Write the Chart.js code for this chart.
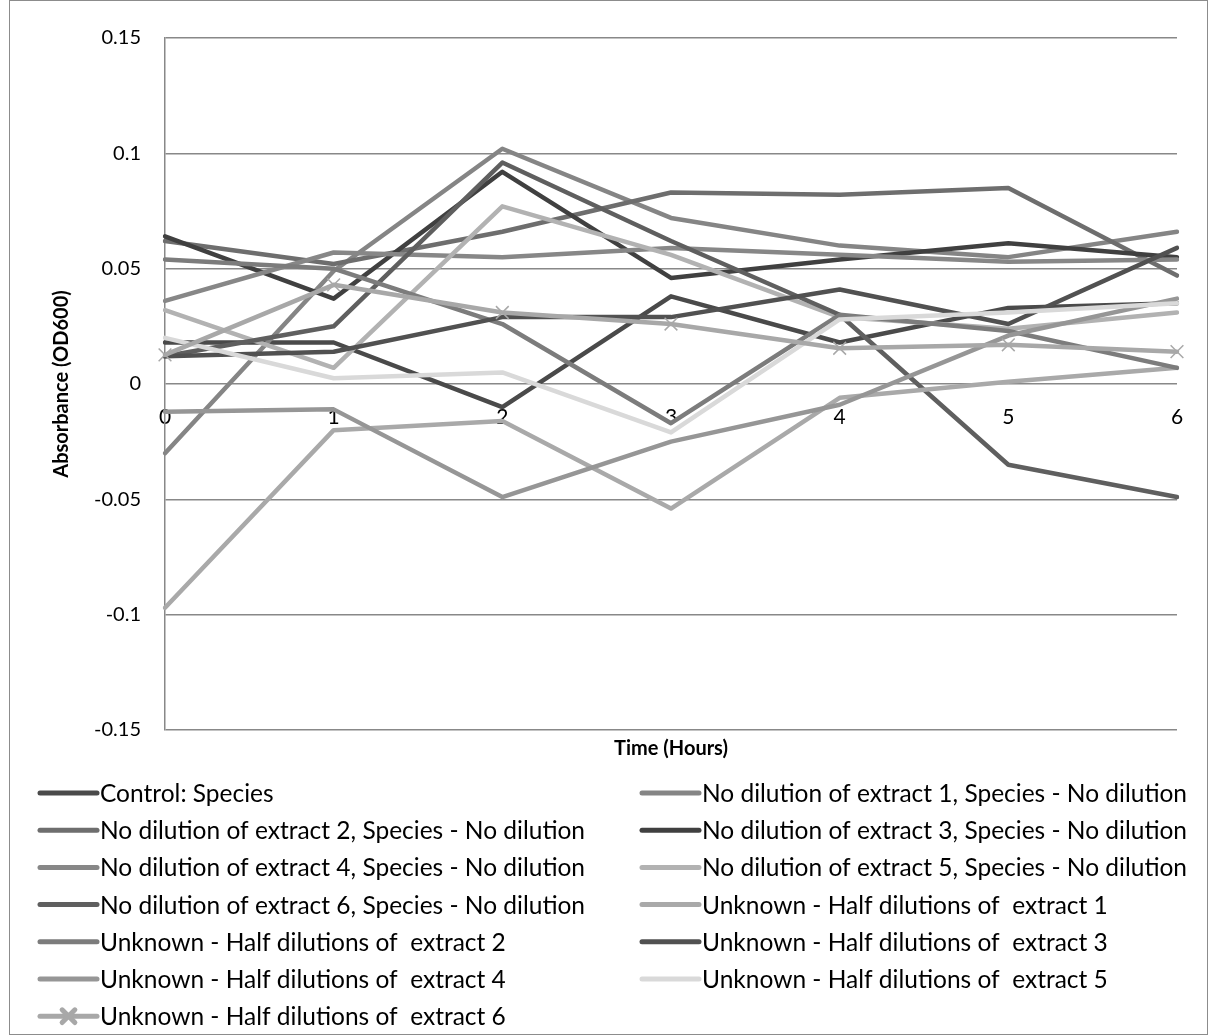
<!DOCTYPE html>
<html>
<head>
<meta charset="utf-8">
<script src="https://cdn.jsdelivr.net/npm/chart.js@4.4.1/dist/chart.umd.min.js"></script>
<style>
  html, body { margin: 0; padding: 0; background: #fff; }
  #wrap { width: 1208px; height: 1035px; }
  canvas { display: block; }
</style>
</head>
<body>
<div id="wrap"><canvas id="chart" width="1208" height="1035"></canvas></div>
<script>
// Time points (hours) and y-axis tick values
const hours = ['0', '1', '2', '3', '4', '5', '6'];
const yTicks = [-0.15, -0.1, -0.05, 0, 0.05, 0.1, 0.15];

// Absorbance readings (OD600) per series
const controlSpecies = [0.018, 0.018, -0.010, 0.038, 0.018, 0.033, 0.035];
const noDil1 = [-0.030, 0.049, 0.102, 0.072, 0.060, 0.055, 0.066];
const noDil2 = [0.062, 0.052, 0.066, 0.083, 0.082, 0.085, 0.047];
const noDil3 = [0.064, 0.037, 0.092, 0.046, 0.054, 0.061, 0.055];
const noDil4 = [0.036, 0.057, 0.055, 0.059, 0.056, 0.053, 0.054];
const noDil5 = [0.032, 0.007, 0.077, 0.056, 0.029, 0.024, 0.031];
const noDil6 = [0.012, 0.025, 0.096, 0.062, 0.030, -0.035, -0.049];
const halfDil1 = [-0.097, -0.020, -0.016, -0.054, -0.006, 0.001, 0.007];
const halfDil2 = [0.054, 0.050, 0.026, -0.017, 0.030, 0.023, 0.007];
const halfDil3 = [0.012, 0.014, 0.029, 0.029, 0.041, 0.026, 0.059];
const halfDil4 = [-0.012, -0.011, -0.049, -0.025, -0.009, 0.021, 0.037];
const halfDil5 = [0.020, 0.0025, 0.005, -0.021, 0.028, 0.031, 0.035];
const halfDil6 = [0.0126, 0.043, 0.031, 0.026, 0.0155, 0.017, 0.014];

const seriesNames = [
  'Control: Species',
  'No dilution of extract 1, Species - No dilution',
  'No dilution of extract 2, Species - No dilution',
  'No dilution of extract 3, Species - No dilution',
  'No dilution of extract 4, Species - No dilution',
  'No dilution of extract 5, Species - No dilution',
  'No dilution of extract 6, Species - No dilution',
  'Unknown - Half dilutions of  extract 1',
  'Unknown - Half dilutions of  extract 2',
  'Unknown - Half dilutions of  extract 3',
  'Unknown - Half dilutions of  extract 4',
  'Unknown - Half dilutions of  extract 5',
  'Unknown - Half dilutions of  extract 6'
];
const seriesValues = [controlSpecies, noDil1, noDil2, noDil3, noDil4, noDil5, noDil6,
  halfDil1, halfDil2, halfDil3, halfDil4, halfDil5, halfDil6];
const seriesColors = ['#4a4a4a', '#858585', '#6e6e6e', '#404040', '#878787', '#b2b2b2', '#5f5f5f',
  '#a9a9a9', '#7c7c7c', '#515151', '#969696', '#d9d9d9', '#a8a8a8'];

const FONT = 'Lato, "Open Sans", sans-serif';

const datasets = seriesValues.map((vals, i) => {
  const marker = i === seriesValues.length - 1;
  return {
    label: seriesNames[i],
    data: vals,
    borderColor: seriesColors[i],
    backgroundColor: seriesColors[i],
    borderWidth: 4.5,
    borderJoinStyle: 'round',
    borderCapStyle: 'round',
    tension: 0,
    fill: false,
    pointStyle: marker ? 'crossRot' : 'circle',
    pointRadius: marker ? 9 : 0,
    pointBorderWidth: marker ? 1.5 : 0,
    pointBorderColor: seriesColors[i],
    order: seriesValues.length - i
  };
});

// White background and outer frame
const frame = {
  id: 'frame',
  beforeDraw(chart) {
    const { ctx, width, height } = chart;
    ctx.save();
    ctx.fillStyle = '#fff';
    ctx.fillRect(0, 0, width, height);
    ctx.restore();
  },
  afterDraw(chart) {
    const { ctx, width, height } = chart;
    ctx.save();
    ctx.strokeStyle = '#8c8c8c';
    ctx.lineWidth = 1;
    ctx.strokeRect(9.5, 0.5, width - 10, height - 1);
    ctx.restore();
  }
};

// Two-column legend under the plot
const gridLegend = {
  id: 'gridLegend',
  afterDraw(chart) {
    const { ctx } = chart;
    const top = chart.chartArea.bottom + 63;
    const rowStep = 37.2;
    const cols = [40, 642];
    ctx.save();
    ctx.font = '24.5px ' + FONT;
    ctx.textBaseline = 'middle';
    chart.data.datasets.forEach((ds, i) => {
      const x0 = cols[i % 2];
      const y = top + Math.floor(i / 2) * rowStep;
      ctx.strokeStyle = ds.borderColor;
      ctx.lineWidth = 5;
      ctx.lineCap = 'round';
      ctx.beginPath();
      ctx.moveTo(x0, y);
      ctx.lineTo(x0 + 57, y);
      ctx.stroke();
      if (ds.pointRadius > 0) {
        Chart.helpers.drawPoint(ctx, {
          pointStyle: ds.pointStyle, radius: ds.pointRadius, borderWidth: ds.pointBorderWidth
        }, x0 + 28.5, y);
      }
      ctx.fillStyle = '#000';
      ctx.fillText(ds.label, x0 + 60, y + 1);
    });
    ctx.restore();
  }
};

new Chart(document.getElementById('chart'), {
  type: 'line',
  data: { labels: hours, datasets },
  plugins: [frame, gridLegend],
  options: {
    responsive: false,
    animation: false,
    layout: { padding: { top: 38, right: 31, left: 0, bottom: 274 } },
    plugins: { legend: { display: false }, tooltip: { enabled: false } },
    scales: {
      x: {
        type: 'category',
        position: { y: 0 },
        grid: { display: false, drawTicks: false },
        border: { display: false },
        ticks: { color: '#000', font: { family: FONT, size: 21 }, padding: 21, maxRotation: 0 }
      },
      xTitle: {
        type: 'category',
        labels: hours,
        position: 'bottom',
        grid: { display: false, drawTicks: false },
        border: { display: false },
        ticks: { display: false },
        title: {
          display: true, text: 'Time (Hours)', color: '#000',
          font: { family: FONT, size: 20, weight: 'bold' },
          padding: { top: 7, bottom: 0 }
        }
      },
      y: {
        min: -0.15,
        max: 0.15,
        afterBuildTicks(scale) { scale.ticks = yTicks.map(v => ({ value: v })); },
        afterFit(scale) { scale.width = 165; },
        grid: { color: '#888', lineWidth: 1.5, drawTicks: false },
        border: { display: true, color: '#888', width: 1.5 },
        ticks: {
          color: '#000', font: { family: FONT, size: 20 }, padding: 24,
          callback: v => String(Number(v.toFixed(2)))
        },
        title: {
          display: true, text: 'Absorbance (OD600)', color: '#000',
          font: { family: FONT, size: 20, weight: 'bold' },
          padding: { top: 50, bottom: 0 }
        }
      }
    }
  }
});
</script>
</body>
</html>
